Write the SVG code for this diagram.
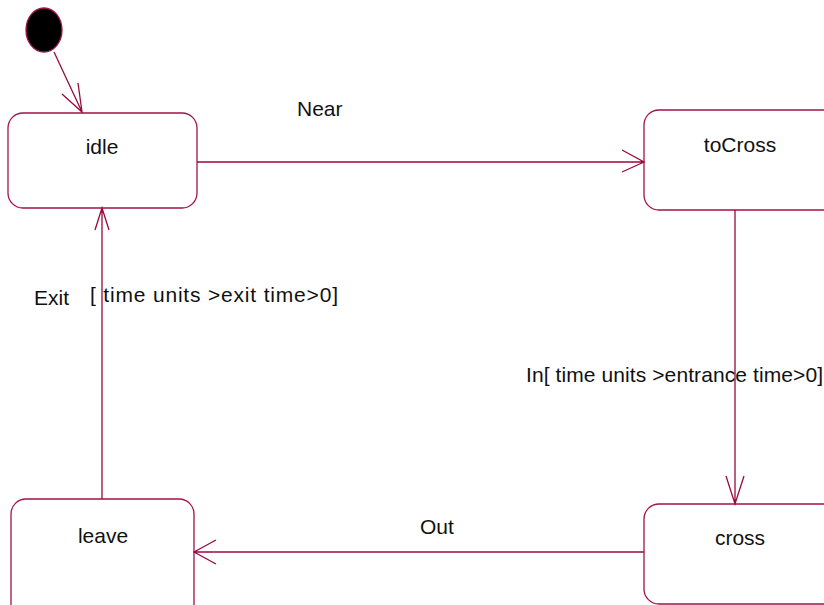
<svg xmlns="http://www.w3.org/2000/svg" width="824" height="605" viewBox="0 0 824 605">
<style>
.st{fill:#fff;stroke:#a0134a;stroke-width:1.3}
.ln{fill:none;stroke:#990a3c;stroke-width:1.3}
text{font-family:"Liberation Sans",Arial,sans-serif;font-size:21px;fill:#111}
.c{text-anchor:middle}
</style>
<rect width="824" height="605" fill="#fff"/>
<g id="initial"><ellipse cx="44" cy="30" rx="18" ry="22" fill="#000" stroke="#a0134a" stroke-width="1.3"/></g>
<g id="idle"><rect class="st" x="8" y="113" width="189" height="95" rx="15"/><text class="c" x="102" y="154">idle</text></g>
<g id="toCross"><rect class="st" x="644" y="110" width="195" height="100" rx="15"/><text class="c" x="740" y="152">toCross</text></g>
<g id="cross"><rect class="st" x="644" y="504" width="195" height="100" rx="15"/><text class="c" x="740" y="545">cross</text></g>
<g id="leave"><rect class="st" x="11" y="499" width="183" height="120" rx="15"/><text class="c" x="103" y="543">leave</text></g>
<g id="connectors">
<path class="ln" d="M54,52 L82,112 M62,94 L82,112 L78,83"/>
<path class="ln" d="M197,162 L644,162 M622,150 L644,162 L622,172"/>
<path class="ln" d="M735,210 L735,504 M726,476 L735,504 L744,476"/>
<path class="ln" d="M644,552 L194,552 M216,540 L194,552 L216,564"/>
<path class="ln" d="M102,499 L102,208 M95,230 L102,208 L109,230"/>
</g>
<g id="labels">
<text x="297" y="116">Near</text>
<text x="34" y="305">Exit</text>
<text x="90" y="302" textLength="248" lengthAdjust="spacing">[ time units &gt;exit time&gt;0]</text>
<text x="526" y="382" textLength="297" lengthAdjust="spacing">In[ time units &gt;entrance time&gt;0]</text>
<text x="420" y="534">Out</text>
</g>
</svg>
